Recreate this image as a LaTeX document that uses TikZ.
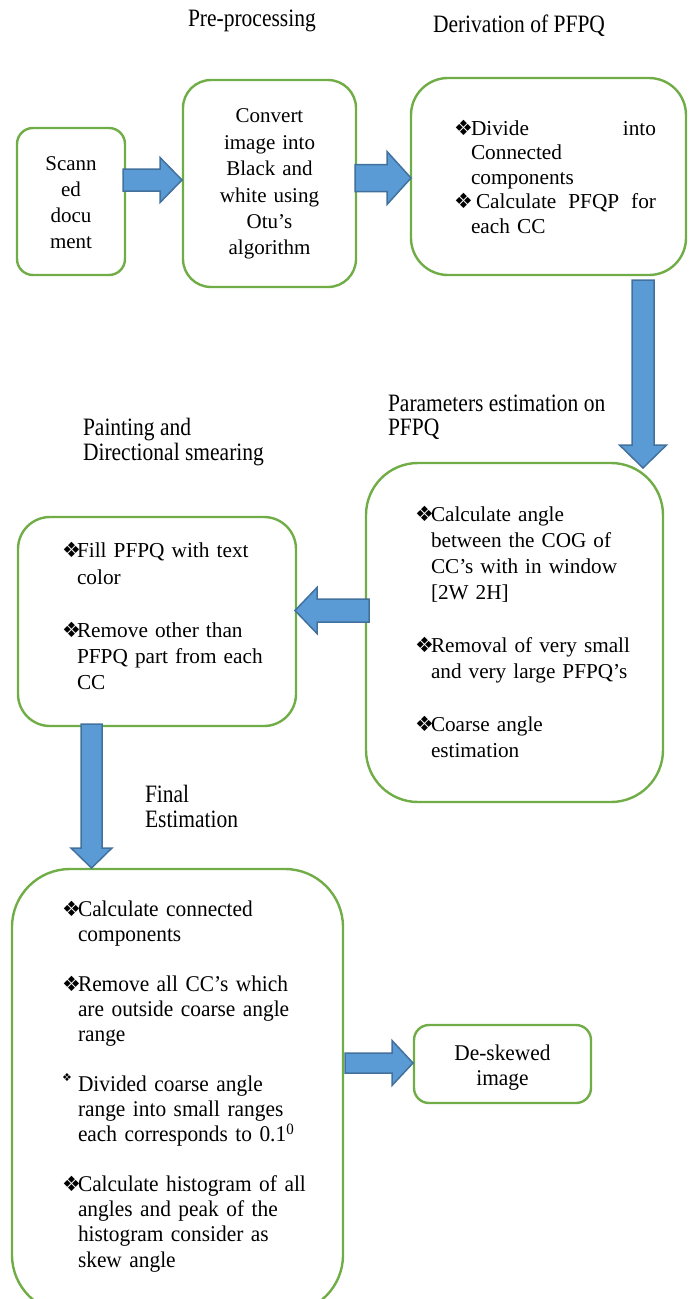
\documentclass[tikz,border=0pt]{standalone}
\usepackage{fontspec}
\setmainfont{Liberation Serif}
\newfontfamily\bulfont{DejaVu Sans}
\newfontfamily\labfont[FakeStretch=0.86]{Liberation Serif}
\newfontfamily\sixfont[FakeStretch=0.95]{Liberation Serif}
\usetikzlibrary{calc}
\definecolor{boxgreen}{HTML}{70AD47}
\definecolor{arrowfill}{HTML}{5B9BD5}
\definecolor{arrowline}{HTML}{41719C}
\newcommand\bul[1]{\makebox[#1][l]{\bulfont\fontsize{21}{21}\selectfont ❖}}
\newcommand\smallbul[1]{\makebox[#1][l]{\raisebox{10pt}{\bulfont\fontsize{11}{11}\selectfont ❖}}}
\newcommand\ind[1]{\hspace*{#1}}
% block arrow: start, tip, shaft half width, head half width, head length
\newcommand\blockarrow[5]{%
  \path ($(#2)!#5!(#1)$) coordinate (bah);
  \filldraw[barrow] ($(#1)!#3!90:(#2)$) -- ($(bah)!#3!90:(#2)$) -- ($(bah)!#4!90:(#2)$)
    -- (#2) -- ($(bah)!#4!-90:(#2)$) -- ($(bah)!#3!-90:(#2)$) -- ($(#1)!#3!-90:(#2)$) -- cycle;
}
\tikzset{
  box/.style={draw=boxgreen, line width=2.4pt, rounded corners=#1, inner sep=0pt},
  barrow/.style={fill=arrowfill, draw=arrowline, line width=1.5pt, line join=miter},
  btext/.style={inner sep=0pt, outer sep=0pt, anchor=north west, align=left, text width=#1},
  ctext/.style={inner sep=0pt, outer sep=0pt, anchor=north, align=center, text width=#1},
  lab/.style={inner sep=0pt, outer sep=0pt, align=left},
}
\begin{document}
\begin{tikzpicture}[x=1pt,y=-1pt]
\useasboundingbox (0,0) rectangle (689,1299);
\clip (0,0) rectangle (689,1299);

% labels
\node[lab, anchor=base west, font=\labfont\fontsize{25}{25}\selectfont] (l1) at (188,26) {Pre-processing};
\node[lab, anchor=base west, font=\labfont\fontsize{25}{25}\selectfont] (l2) at (433,32) {Derivation of PFPQ};
\node[lab, anchor=north west, font=\labfont\fontsize{25}{24}\selectfont] (l3) at (388,394.2) {\strut Parameters estimation on\\PFPQ};
\node[lab, anchor=north west, font=\labfont\fontsize{25}{25}\selectfont] (l4) at (83,417.5) {\strut Painting and\\Directional smearing};
\node[lab, anchor=north west, font=\labfont\fontsize{25}{25}\selectfont] (l5) at (145,784.5) {\strut Final\\Estimation};

% boxes
\node[box=16pt, minimum width=108pt, minimum height=147pt] (b1) at (71,201.5) {};
\node[box=28pt, minimum width=173pt, minimum height=207pt] (b2) at (269.5,183.5) {};
\node[box=37pt, minimum width=275pt, minimum height=197pt] (b3) at (548.5,176.5) {};
\node[box=52pt, minimum width=297pt, minimum height=339pt] (b4) at (514.5,632.5) {};
\node[box=32pt, minimum width=278pt, minimum height=209pt] (b5) at (157,621.5) {};
\node[box=58pt, minimum width=331pt, minimum height=444pt] (b6) at (177.5,1091) {};
\node[box=15pt, minimum width=177pt, minimum height=78pt] (b7) at (502.5,1064) {};

% arrows
\coordinate (a1s) at (123,180);   \coordinate (a1t) at (182,180);
\coordinate (a2s) at (355,178);   \coordinate (a2t) at (411,178);
\coordinate (a3s) at (643,280);   \coordinate (a3t) at (643,468);
\coordinate (a4s) at (369,610.5); \coordinate (a4t) at (295,610.5);
\coordinate (a5s) at (91.5,724);  \coordinate (a5t) at (91.5,868);
\coordinate (a6s) at (345,1063);  \coordinate (a6t) at (413,1063);
\blockarrow{a1s}{a1t}{11pt}{22.5pt}{22pt}
\blockarrow{a2s}{a2t}{13.5pt}{26.5pt}{24pt}
\blockarrow{a3s}{a3t}{11pt}{23.5pt}{23pt}
\blockarrow{a4s}{a4t}{11.5pt}{23pt}{22pt}
\blockarrow{a5s}{a5t}{10.5pt}{20.5pt}{20pt}
\blockarrow{a6s}{a6t}{10pt}{22.5pt}{21pt}

% box texts
\node[ctext=108pt, font=\fontsize{21}{26}\selectfont] (t1) at (71,151.8)
  {\strut Scann\\ed\\docu\\ment};
\node[ctext=173pt, font=\fontsize{21}{26.4}\selectfont] (t2) at (269.5,104.5)
  {\strut Convert\\image into\\Black and\\white using\\Otu’s\\algorithm};
\node[btext=230pt, font=\fontsize{21.3}{24.5}\selectfont] (t3) at (454,117.9)
  {\strut\bul{17pt}\hbox to 185pt{Divide\hfill into}\\
   \ind{17pt}Connected\\
   \ind{17pt}components\\
   \bul{22pt}\hbox to 180pt{Calculate\hfill PFQP\hfill for}\\
   \ind{17pt}each CC};
\node[btext=240pt, font=\fontsize{21.2}{26.3}\selectfont] (t4) at (415,502.6)
  {\strut\bul{16pt}Calculate angle\\
   \ind{16pt}between the COG of\\
   \ind{16pt}CC’s with in window\\
   \ind{16pt}[2W 2H]\\[26.3pt]
   \bul{16pt}Removal of very small\\
   \ind{16pt}and very large PFPQ’s\\[26.3pt]
   \bul{16pt}Coarse angle\\
   \ind{16pt}estimation};
\node[btext=230pt, font=\fontsize{21.3}{26.4}\selectfont] (t5) at (62,539.5)
  {\strut\bul{15pt}Fill PFPQ with text\\
   \ind{15pt}color\\[26.4pt]
   \bul{15pt}Remove other than\\
   \ind{15pt}PFPQ part from each\\
   \ind{15pt}CC};
\node[btext=270pt, font=\sixfont\fontsize{22.5}{25.07}\selectfont] (t6) at (62,898.5)
  {\strut\bul{16pt}Calculate connected\\
   \ind{16pt}components\\[25.07pt]
   \bul{16pt}Remove all CC’s which\\
   \ind{16pt}are outside coarse angle\\
   \ind{16pt}range\\[25.07pt]
   \smallbul{16pt}Divided coarse angle\\
   \ind{16pt}range into small ranges\\
   \ind{16pt}each corresponds to 0.1\textsuperscript{0}\\[25.07pt]
   \bul{16pt}Calculate histogram of all\\
   \ind{16pt}angles and peak of the\\
   \ind{16pt}histogram consider as\\
   \ind{16pt}skew angle};
\node[ctext=177pt, font=\sixfont\fontsize{22.5}{25}\selectfont] (t7) at (502.5,1042.5)
  {\strut De-skewed\\image};
\end{tikzpicture}
\end{document}
